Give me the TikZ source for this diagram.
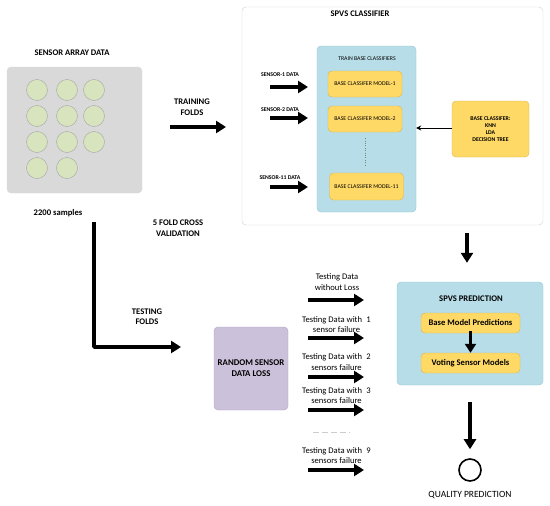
\documentclass[tikz,border=0pt]{standalone}
\usepackage{fontspec}
\setmainfont{Carlito}
\usetikzlibrary{arrows.meta, positioning}

\definecolor{panelgray}{HTML}{D9D9D9}
\definecolor{sensorgreen}{HTML}{D7E4BD}
\definecolor{trainblue}{HTML}{B7DEE8}
\definecolor{blueedge}{HTML}{93C4D4}
\definecolor{modelyellow}{HTML}{FFD966}
\definecolor{yellowedge}{HTML}{D9B44A}
\definecolor{lossviolet}{HTML}{CCC1DA}
\definecolor{violetedge}{HTML}{B0A4C4}

\begin{document}
\begin{tikzpicture}[x=1pt, y=-1pt, >=Stealth,
  box/.style={rounded corners=4pt, inner sep=0pt, align=center},
  modelbox/.style={box, fill=modelyellow, draw=yellowedge, minimum width=74pt, minimum height=26pt, font=\fontsize{5.8}{7}\selectfont},
  headtext/.style={font=\bfseries\fontsize{8.6}{10.5}\selectfont, align=center, inner sep=0pt},
  smalltext/.style={font=\bfseries\fontsize{5.8}{7}\selectfont, align=center, inner sep=0pt},
  testtext/.style={font=\fontsize{8.6}{10.5}\selectfont, align=center, inner sep=0pt},
  sensor/.style={circle, fill=sensorgreen, draw=gray!70, minimum size=21pt, inner sep=0pt},
  fatarrow/.style={line width=3.8pt, -{Triangle[length=10pt, width=12pt]}},
  ]
  \useasboundingbox (0,0) rectangle (550,506);

  % sensor array
  \node[headtext] (arraytitle) at (72,53) {SENSOR ARRAY DATA};
  \node[box, fill=panelgray, draw=gray!30, minimum width=135pt, minimum height=126pt] (array) at (74.5,130) {};
  \foreach \sx/\sy [count=\i] in {37/90, 67/90, 94/90, 37/116, 67/116, 94/116,
                                  37/142, 67/142, 94/142, 37/168, 67/168}
    \node[sensor] (s\i) at (\sx,\sy) {};
  \node[headtext] (samples) at (58,213) {2200 samples};

  % folds
  \node[headtext] (trainfolds) at (192,107) {TRAINING\\FOLDS};
  \coordinate (trainstart) at (170,127);
  \coordinate (trainend) at (226,127);
  \draw[fatarrow] (trainstart) -- (trainend);
  \node[headtext] (crossval) at (178,228) {5 FOLD CROSS\\VALIDATION};
  \node[headtext] (testfolds) at (147,316.5) {TESTING\\FOLDS};
  \coordinate (teststart) at (94,222);
  \coordinate (testend) at (181,347);
  \draw[fatarrow, line join=round] (teststart) |- (testend);

  % SPVS classifier
  \node[box, fill=white, draw=gray!35, minimum width=301pt, minimum height=218pt] (classifier) at (392.5,116) {};
  \node[headtext] (clftitle) at (360,14) {SPVS CLASSIFIER};
  \node[box, fill=trainblue, draw=blueedge, minimum width=99pt, minimum height=166pt] (train) at (366.5,129) {};
  \node[font=\fontsize{5.8}{7}\selectfont, inner sep=0pt] (traintitle) at (367,59) {TRAIN BASE CLASSIFIERS};
  \node[modelbox] (m1) at (365,84) {BASE CLASSIFER MODEL-1};
  \node[modelbox] (m2) at (365,119) {BASE CLASSIFER MODEL-2};
  \node[modelbox, minimum height=27pt] (m11) at (366.5,186.5) {BASE CLASSIFER MODEL-11};
  \draw[gray, dotted, shorten <=6pt, shorten >=8pt] (m2.south) -- (m2.south |- m11.north);

  \foreach \lab/\ly/\ay in {1/75/87, 2/110/118, 11/178/187} {
    \node[smalltext] (sl\lab) at (280,\ly) {SENSOR-\lab{} DATA};
    \coordinate (sa\lab) at (270,\ay);
    \draw[fatarrow, line width=3.5pt] (sa\lab) -- ++(38,0);
  }

  \node[box, fill=modelyellow, draw=yellowedge, minimum width=77pt, minimum height=56pt,
        font=\bfseries\fontsize{5.8}{7.2}\selectfont] (baseclf) at (490.5,129)
        {BASE CLASSIFER:\\KNN\\LDA\\DECISION TREE};
  \draw[line width=1pt, -{Stealth[length=5pt, width=5pt]}] (baseclf.west |- 0,128) -- (train.east |- 0,128);

  % SPVS prediction
  \node[box, fill=trainblue, draw=blueedge, minimum width=146pt, minimum height=103pt] (pred) at (470,333.5) {};
  \coordinate (downx) at (467,0);
  \draw[fatarrow, shorten <=8pt, shorten >=19pt] (classifier.south -| downx) -- (pred.north -| downx);
  \node[headtext] (predtitle) at (471,299) {SPVS PREDICTION};
  \node[box, fill=modelyellow, draw=yellowedge, minimum width=99pt, minimum height=20pt,
        font=\bfseries\fontsize{8.6}{10}\selectfont] (basepred) at (470.5,323) {Base Model Predictions};
  \node[box, fill=modelyellow, draw=yellowedge, minimum width=99pt, minimum height=20pt,
        font=\bfseries\fontsize{8.6}{10}\selectfont] (voting) at (470.5,363) {Voting Sensor Models};
  \draw[fatarrow, line width=3pt, -{Triangle[length=9pt, width=11pt]}, shorten <=-2pt] (basepred.south) -- (voting.north);

  % quality prediction
  \node[circle, draw, line width=1.6pt, minimum size=22pt, inner sep=0pt] (quality) at (470,470) {};
  \draw[fatarrow, shorten <=17pt, shorten >=9pt] (pred.south) -- (quality.north);
  \node[font=\fontsize{9.5}{11}\selectfont, inner sep=0pt] (qualitylabel) at (470,495) {QUALITY PREDICTION};

  % random sensor loss
  \node[box, fill=lossviolet, draw=violetedge, minimum width=74pt, minimum height=83pt,
        font=\bfseries\fontsize{8.8}{11}\selectfont] (loss) at (251,368.5) {RANDOM SENSOR\\DATA LOSS};

  \node[testtext] (t0) at (337,282) {Testing Data\\without Loss};
  \node[testtext] (t1) at (336.5,324.5) {Testing Data with\hspace{0.5em}1\\sensor failure};
  \node[testtext] (t2) at (336.5,362) {Testing Data with\hspace{0.5em}2\\sensors failure};
  \node[testtext] (t3) at (336.5,395.5) {Testing Data with\hspace{0.5em}3\\sensors failure};
  \node[testtext] (t9) at (336.5,455.5) {Testing Data with\hspace{0.5em}9\\sensors failure};
  \foreach \ty [count=\j] in {300, 338, 377, 410, 470} {
    \coordinate (ta\j) at (308,\ty);
    \draw[fatarrow, line width=3.5pt] (ta\j) -- ++(56,0);
  }
  \draw[gray!40, line width=0.8pt, dash pattern=on 6pt off 3pt] (313,432) -- (350,432);
\end{tikzpicture}
\end{document}
